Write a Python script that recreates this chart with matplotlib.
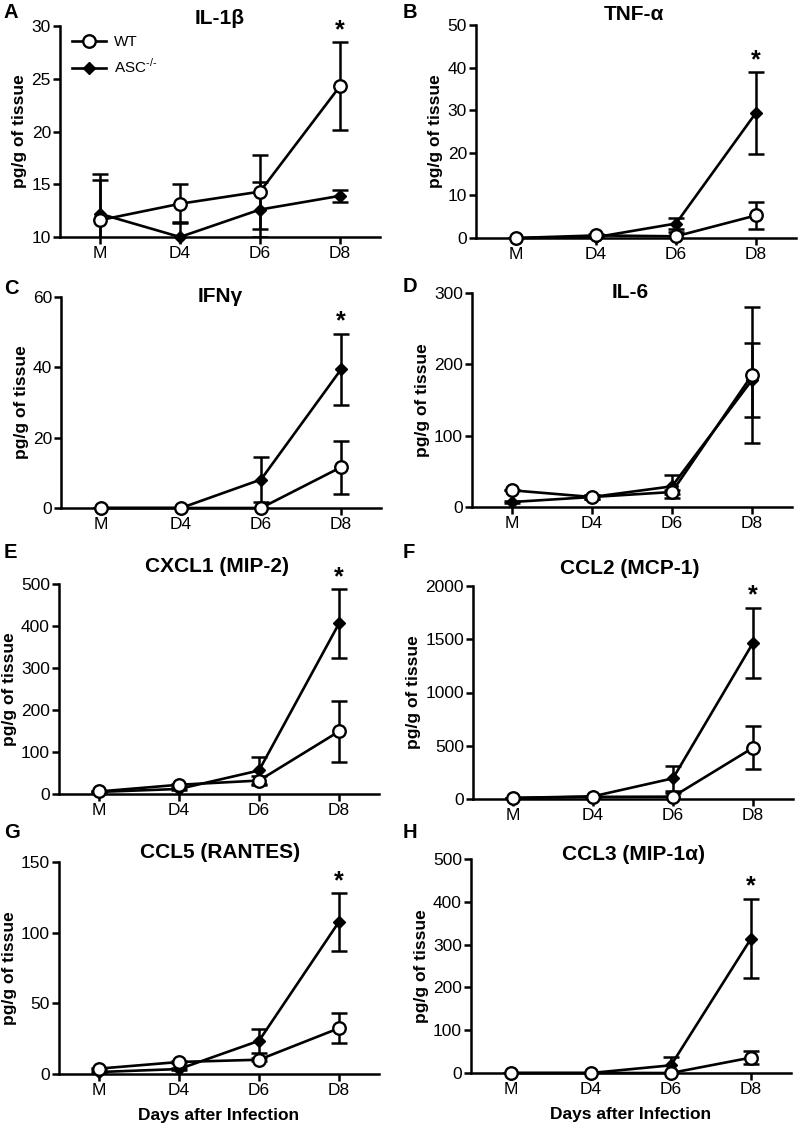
import matplotlib
matplotlib.use("Agg")
import matplotlib.pyplot as plt

plt.rcParams['font.family'] = ['Liberation Sans', 'DejaVu Sans']
plt.rcParams['mathtext.fontset'] = 'custom'
plt.rcParams['mathtext.rm'] = 'Liberation Sans'

days = ["M", "D4", "D6", "D8"]

# IL-1beta
il1b_wt = [11.6, 13.15, 14.3, 24.3]
il1b_wt_err = [4.4, 1.85, 3.5, 4.2]
il1b_asc = [12.2, 10.0, 12.6, 13.9]
il1b_asc_err = [3.2, 1.45, 2.6, 0.6]

# TNF-alpha
tnf_wt = [0.0, 0.6, 0.4, 5.3]
tnf_wt_err = [0.0, 0.3, 1.0, 3.2]
tnf_asc = [0.0, 0.2, 3.4, 29.4]
tnf_asc_err = [0.0, 0.2, 1.4, 9.6]

# IFN-gamma
ifng_wt = [0.0, 0.0, 0.0, 11.6]
ifng_wt_err = [0.0, 0.0, 0.0, 7.5]
ifng_asc = [0.0, 0.0, 8.1, 39.4]
ifng_asc_err = [0.0, 0.0, 6.4, 10.2]

# IL-6
il6_wt = [23.4, 14.0, 21.0, 185.0]
il6_wt_err = [0.0, 3.0, 3.0, 95.0]
il6_asc = [7.0, 14.0, 29.0, 178.0]
il6_asc_err = [1.0, 3.0, 16.0, 52.0]

# CXCL1
cxcl1_wt = [6.0, 22.0, 32.0, 149.0]
cxcl1_wt_err = [2.0, 3.0, 10.0, 73.0]
cxcl1_asc = [5.0, 12.0, 56.0, 406.0]
cxcl1_asc_err = [2.0, 3.0, 33.0, 81.0]

# CCL2
ccl2_wt = [10.0, 20.0, 22.0, 481.0]
ccl2_wt_err = [3.0, 5.0, 30.0, 200.0]
ccl2_asc = [10.0, 25.0, 194.0, 1466.0]
ccl2_asc_err = [3.0, 5.0, 120.0, 330.0]

# CCL5
ccl5_wt = [3.8, 8.5, 10.1, 32.4]
ccl5_wt_err = [0.5, 0.8, 1.0, 10.6]
ccl5_asc = [1.4, 3.5, 23.5, 107.7]
ccl5_asc_err = [0.5, 0.8, 8.4, 20.4]

# CCL3
ccl3_wt = [0.0, 0.0, 0.0, 36.0]
ccl3_wt_err = [0.0, 0.0, 0.0, 14.5]
ccl3_asc = [0.0, 0.0, 18.0, 314.0]
ccl3_asc_err = [0.0, 0.0, 19.0, 93.0]

panels = [
    ("A", "IL-1β", il1b_wt, il1b_wt_err, il1b_asc, il1b_asc_err, (10, 30), [10, 15, 20, 25, 30], True),
    ("B", "TNF-α", tnf_wt, tnf_wt_err, tnf_asc, tnf_asc_err, (0, 50), [0, 10, 20, 30, 40, 50], True),
    ("C", "IFNγ", ifng_wt, ifng_wt_err, ifng_asc, ifng_asc_err, (0, 60), [0, 20, 40, 60], True),
    ("D", "IL-6", il6_wt, il6_wt_err, il6_asc, il6_asc_err, (0, 300), [0, 100, 200, 300], False),
    ("E", "CXCL1 (MIP-2)", cxcl1_wt, cxcl1_wt_err, cxcl1_asc, cxcl1_asc_err, (0, 500), [0, 100, 200, 300, 400, 500], True),
    ("F", "CCL2 (MCP-1)", ccl2_wt, ccl2_wt_err, ccl2_asc, ccl2_asc_err, (0, 2000), [0, 500, 1000, 1500, 2000], True),
    ("G", "CCL5 (RANTES)", ccl5_wt, ccl5_wt_err, ccl5_asc, ccl5_asc_err, (0, 150), [0, 50, 100, 150], True),
    ("H", "CCL3 (MIP-1α)", ccl3_wt, ccl3_wt_err, ccl3_asc, ccl3_asc_err, (0, 500), [0, 100, 200, 300, 400, 500], True),
]

# layout in pixels: axes box (left, top, right, bottom), title (x, y), letter (x, y)
boxes = {
    "A": ((60, 26, 380, 237), (220, 18), (4, 13)),
    "B": ((476, 25, 796, 238), (634, 15), (403, 13)),
    "C": ((61, 297, 381, 508), (220, 297), (4, 288)),
    "D": ((472, 293, 792, 507), (630, 293), (403, 287)),
    "E": ((59, 584, 379, 794), (217, 567), (4, 553)),
    "F": ((473, 586, 793, 799), (630, 568), (403, 553)),
    "G": ((59, 862, 379, 1074), (220, 853), (4, 832)),
    "H": ((471, 859, 791, 1073), (633, 855), (403, 832)),
}

W, H = 800, 1125
fig = plt.figure(figsize=(W / 100, H / 100), dpi=100)

x = list(range(len(days)))
for letter, title, wt, wte, asc, asce, ylim, yticks, star in panels:
    (l, t, r, b), (tx, ty), (lx, ly) = boxes[letter]
    ax = fig.add_axes([l / W, 1 - b / H, (r - l) / W, (b - t) / H])
    ax.errorbar(x, wt, yerr=wte, fmt='none', ecolor='black', elinewidth=1.8,
                capsize=5.5, capthick=1.8, zorder=2)
    ax.errorbar(x, asc, yerr=asce, fmt='none', ecolor='black', elinewidth=1.8,
                capsize=5.5, capthick=1.8, zorder=2)
    ax.plot(x, asc, color='black', lw=1.9, marker='D', ms=6.5, mfc='black',
            mec='black', clip_on=False, zorder=3, label=r'ASC$^{\text{-/-}}$')
    ax.plot(x, wt, color='black', lw=1.9, marker='o', ms=9, mfc='white',
            mec='black', mew=1.7, clip_on=False, zorder=4, label='WT')
    ax.set_xlim(-0.5, 3.5)
    ax.set_ylim(*ylim)
    ax.set_yticks(yticks)
    ax.set_xticks(x)
    ax.set_xticklabels(days)
    for s in ('top', 'right'):
        ax.spines[s].set_visible(False)
    for s in ('left', 'bottom'):
        ax.spines[s].set_linewidth(1.8)
    ax.tick_params(axis='both', direction='out', length=5, width=1.8,
                   labelsize=12.5, pad=1.5)
    ax.set_ylabel("pg/g of tissue", fontsize=12.5, fontweight='bold', labelpad=3)
    fig.text(tx / W, 1 - ty / H, title, fontsize=15, fontweight='bold',
             ha='center', va='center')
    fig.text(lx / W, 1 - ly / H, letter, fontsize=14.5, fontweight='bold',
             ha='left', va='center')
    if star:
        top = max(wt[3] + wte[3], asc[3] + asce[3])
        ax.annotate("*", xy=(3, top), xytext=(0, 0), textcoords='offset points',
                    ha='center', va='bottom', fontsize=18, fontweight='bold',
                    annotation_clip=False)
    if letter in ("G", "H"):
        ax.set_xlabel("Days after Infection", fontsize=12.5, fontweight='bold', labelpad=7)
    if letter == "A":
        h, lab = ax.get_legend_handles_labels()
        ax.legend(h[::-1], lab[::-1], loc='upper left', bbox_to_anchor=(0.01, 1.0),
                  frameon=False, fontsize=11, handlelength=2.2, borderaxespad=0.2,
                  labelspacing=0.55, handletextpad=0.5)

fig.savefig("out.png", dpi=100)
